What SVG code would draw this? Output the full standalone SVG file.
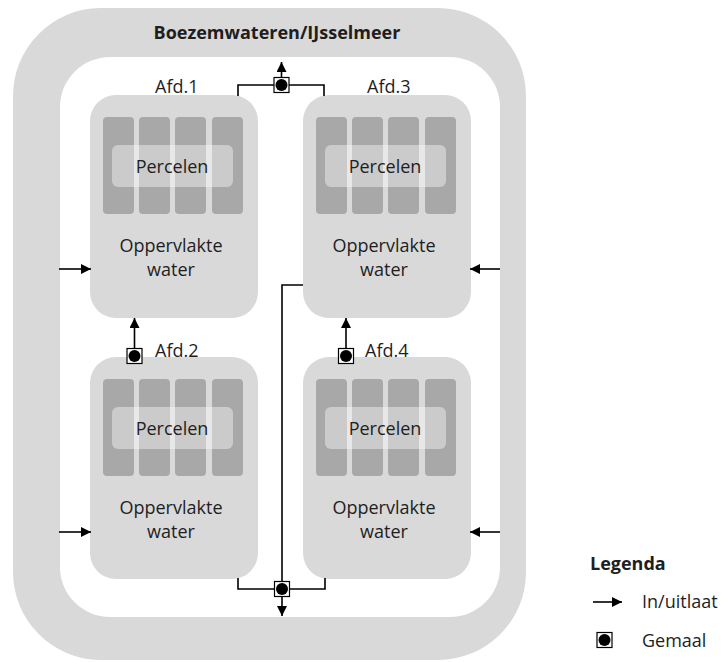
<svg xmlns="http://www.w3.org/2000/svg" width="726" height="662" viewBox="0 0 726 662">
<style>
.ring{fill:#d9d9d9}
.node{fill:#d9d9d9}
.strip{fill:#a8a8a8}
.ov{fill:#ffffff;fill-opacity:0.4}
.t{font-family:"Open Sans","Liberation Sans",sans-serif;font-size:18px;fill:#1e1e1e}
.tb{font-family:"Open Sans","Liberation Sans",sans-serif;font-size:18px;font-weight:bold;fill:#1e1e1e}
.ln{stroke:#000;stroke-width:1.6;fill:none}
.sq{fill:#fff;stroke:#000;stroke-width:1.2}
</style>
<defs>
<marker id="ah" viewBox="0 0 10 10" refX="10" refY="5" markerWidth="10" markerHeight="10" markerUnits="userSpaceOnUse" orient="auto">
<path d="M0,0 L10,5 L0,10 Z" fill="#000"/>
</marker>
<g id="gemaal-sym">
<rect class="sq" x="-7.5" y="-7.5" width="15" height="15"/>
<circle cx="0" cy="0" r="6" fill="#000"/>
</g>
<g id="plots">
<rect class="strip" x="13" y="22" width="31" height="97" rx="4"/>
<rect class="strip" x="49" y="22" width="31" height="97" rx="4"/>
<rect class="strip" x="85" y="22" width="31" height="97" rx="4"/>
<rect class="strip" x="122" y="22" width="31" height="97" rx="4"/>
<rect class="ov" x="22" y="50" width="121" height="42" rx="6"/>
</g>
</defs>
<rect width="726" height="662" fill="#fff"/>
<g id="boezem">
<path class="ring" fill-rule="evenodd" d="M100,8 H438 A88,88 0 0 1 526,96 V572 A88,88 0 0 1 438,660 H100 A88,88 0 0 1 13,572 V96 A88,88 0 0 1 100,8 Z M110,57 H450 A50,50 0 0 1 500,107 V567 A50,50 0 0 1 450,617 H110 A50,50 0 0 1 60,567 V107 A50,50 0 0 1 110,57 Z"/>
<text class="tb" x="277" y="39" text-anchor="middle">Boezemwateren/IJsselmeer</text>
</g>
<g id="afd1">
<rect class="node" x="90" y="95" width="168" height="223" rx="26"/>
<use href="#plots" transform="translate(90,95)"/>
<text class="t" x="172" y="173" text-anchor="middle">Percelen</text>
<text class="t" x="171" y="252" text-anchor="middle">Oppervlakte</text>
<text class="t" x="171" y="276" text-anchor="middle">water</text>
<text class="t" x="155" y="93">Afd.1</text>
</g>
<g id="afd3">
<rect class="node" x="303" y="95" width="168" height="223" rx="26"/>
<use href="#plots" transform="translate(303,95)"/>
<text class="t" x="385" y="173" text-anchor="middle">Percelen</text>
<text class="t" x="384" y="252" text-anchor="middle">Oppervlakte</text>
<text class="t" x="384" y="276" text-anchor="middle">water</text>
<text class="t" x="367" y="93">Afd.3</text>
</g>
<g id="afd2">
<rect class="node" x="90" y="357" width="168" height="222" rx="26"/>
<use href="#plots" transform="translate(90,357)"/>
<text class="t" x="172" y="435" text-anchor="middle">Percelen</text>
<text class="t" x="171" y="514" text-anchor="middle">Oppervlakte</text>
<text class="t" x="171" y="538" text-anchor="middle">water</text>
<text class="t" x="155" y="357">Afd.2</text>
</g>
<g id="afd4">
<rect class="node" x="303" y="357" width="168" height="222" rx="26"/>
<use href="#plots" transform="translate(303,357)"/>
<text class="t" x="385" y="435" text-anchor="middle">Percelen</text>
<text class="t" x="384" y="514" text-anchor="middle">Oppervlakte</text>
<text class="t" x="384" y="538" text-anchor="middle">water</text>
<text class="t" x="365" y="357">Afd.4</text>
</g>
<g id="connectors">
<line class="ln" x1="59" y1="269" x2="91" y2="269" marker-end="url(#ah)"/>
<line class="ln" x1="59" y1="532" x2="91" y2="532" marker-end="url(#ah)"/>
<line class="ln" x1="500" y1="269" x2="470" y2="269" marker-end="url(#ah)"/>
<line class="ln" x1="500" y1="532" x2="470" y2="532" marker-end="url(#ah)"/>
<polyline class="ln" points="238,96 238,85 324,85 324,96"/>
<line class="ln" x1="281.5" y1="78" x2="281.5" y2="62" marker-end="url(#ah)"/>
<polyline class="ln" points="238,578 238,589 325,589 325,578"/>
<polyline class="ln" points="303,285 282,285 282,589"/>
<line class="ln" x1="282" y1="596" x2="282" y2="616" marker-end="url(#ah)"/>
<line class="ln" x1="134.5" y1="349" x2="134.5" y2="318" marker-end="url(#ah)"/>
<line class="ln" x1="346" y1="349" x2="346" y2="318" marker-end="url(#ah)"/>
<use href="#gemaal-sym" x="281.5" y="85"/>
<use href="#gemaal-sym" x="282" y="589"/>
<use href="#gemaal-sym" x="134.5" y="356"/>
<use href="#gemaal-sym" x="346" y="356"/>
</g>
<g id="legenda">
<text class="tb" x="590" y="570">Legenda</text>
<line class="ln" x1="593" y1="602" x2="622" y2="602" marker-end="url(#ah)"/>
<text class="t" x="642" y="608">In/uitlaat</text>
<use href="#gemaal-sym" x="604.5" y="640"/>
<text class="t" x="642" y="647">Gemaal</text>
</g>
</svg>
